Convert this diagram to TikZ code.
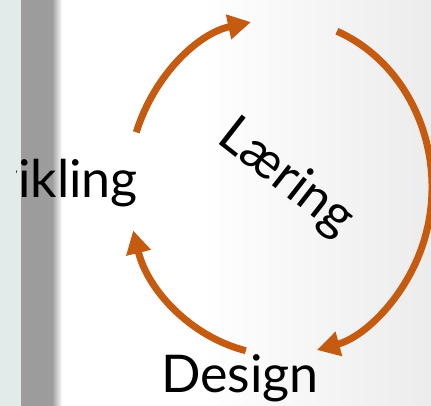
\documentclass[tikz,border=0pt]{standalone}
\usepackage{fontspec}
\setmainfont{Lato}
\usetikzlibrary{arrows.meta,calc}

\definecolor{cycleorange}{RGB}{197,90,17}
\definecolor{panecolor}{RGB}{227,235,234}
\definecolor{barcolor}{RGB}{156,156,156}
\definecolor{edgegray}{RGB}{236,236,236}

\begin{document}
\begin{tikzpicture}[x=1pt, y=1pt]
  \def\rx{152}
  \def\ry{168}
  \tikzstyle{stage} = [font=\fontsize{52}{60}\selectfont, inner sep = 0pt, text=black]
  \tikzstyle{cycle} = [draw=cycleorange, line width=7pt, -{Triangle[length=23pt, width=24pt]}]

  \useasboundingbox (0,0) rectangle (431,406);

  % background
  \fill[white] (0,0) rectangle (431,406);
  \shade[left color=white, right color=edgegray] (200,0) rectangle (431,406);
  \fill[panecolor] (0,0) rectangle (21,406);
  \fill[barcolor] (21,0) rectangle (52,406);
  \shade[left color=barcolor, right color=white] (52,0) rectangle (62,406);

  \coordinate (c) at (280,219);

  % stages
  \node[stage, anchor=base east] (utv) at (138,208) {Utvikling};
  \node[stage, rotate=-38] (laer) at (286,228) {Læring};
  \node[stage, anchor=base] (des) at (240,13) {Design};

  \fill[panecolor] (0,0) rectangle (16,406);

  % arrows of the cycle
  \coordinate (s1) at ($(c)+(161:\rx pt and \ry pt)$);
  \coordinate (s2) at ($(c)+(68:\rx pt and \ry pt)$);
  \coordinate (s3) at ($(c)+(-103:\rx pt and \ry pt)$);

  \draw[cycle] (s1) arc[start angle=161, end angle=101, x radius=\rx, y radius=\ry];
  \draw[cycle] (s2) arc[start angle=68, end angle=-76, x radius=\rx, y radius=\ry];
  \draw[cycle] (s3) arc[start angle=-103, end angle=-165, x radius=\rx, y radius=\ry];

\end{tikzpicture}
\end{document}
